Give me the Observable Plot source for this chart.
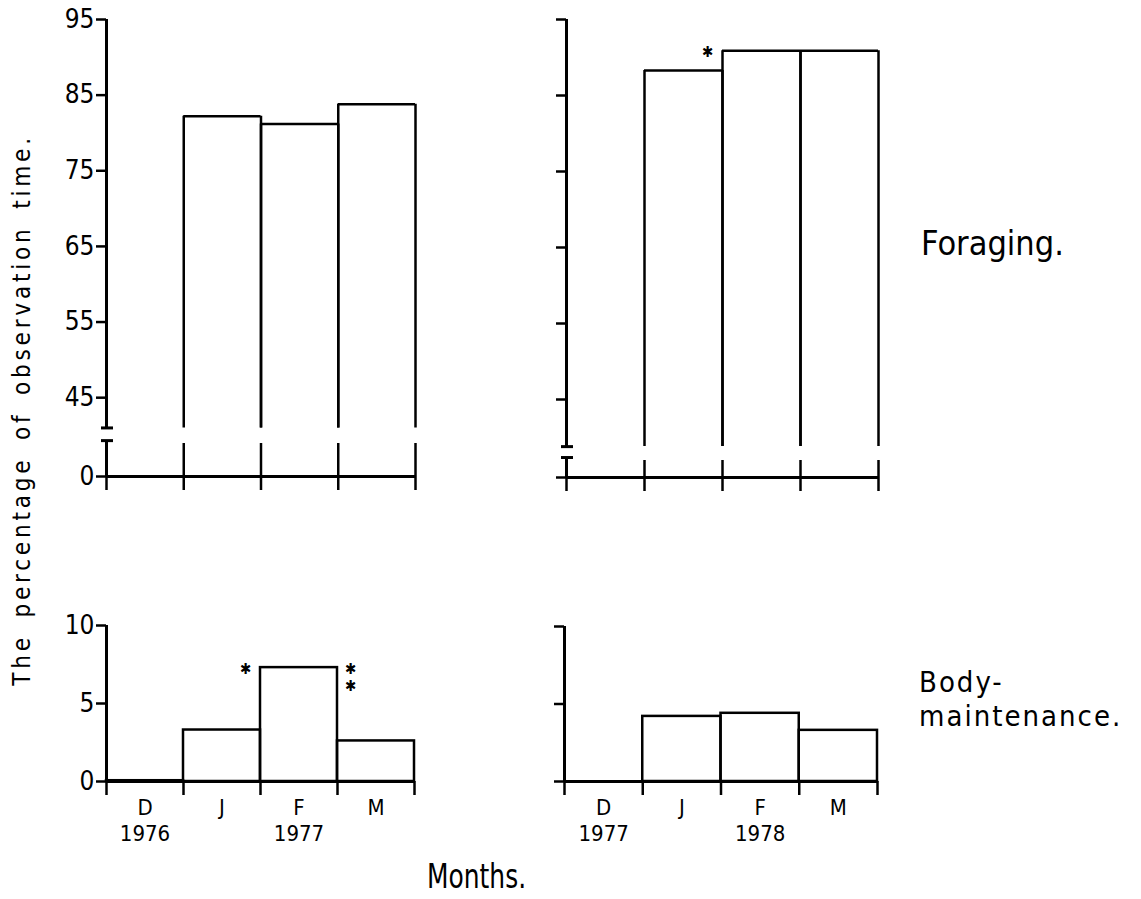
<!DOCTYPE html>
<html>
<head>
<meta charset="utf-8">
<script src="https://cdn.jsdelivr.net/npm/d3@7"></script>
<script src="https://cdn.jsdelivr.net/npm/@observablehq/plot@0.6"></script>
<style>
  body { margin: 0; background: #fff; }
  #fig {
    position: relative; width: 1141px; height: 899px; overflow: hidden;
    font-family: "DejaVu Sans Condensed", "DejaVu Sans", sans-serif;
    font-stretch: condensed; color: #000;
  }
  .panel { position: absolute; }
  .lbl { position: absolute; white-space: nowrap; line-height: 1; }
</style>
</head>
<body>
<div id="fig"></div>
<script>
// Months of each winter season (December to March)
const months = ["D", "J", "F", "M"];

// Percentage of observation time spent foraging (no December record)
const foraging1977 = [null, 82.2, 81.2, 83.8];
const foraging1978 = [null, 88.3, 90.9, 90.9];

// Percentage of observation time spent on body-maintenance
const body1977 = [0.05, 3.3, 7.3, 2.6];
const body1978 = [0, 4.2, 4.4, 3.3];

// Year labels written under the month letters
const years1977 = [{m: "D", label: "1976"}, {m: "F", label: "1977"}];
const years1978 = [{m: "D", label: "1977"}, {m: "F", label: "1978"}];

// Tick values of the two y axes
const foragingTicks = [0, 45, 55, 65, 75, 85, 95];
const bodyTicks = [0, 5, 10];

// Significance asterisks beside a month's bar (row = position in a stack)
const starsForaging1978 = [{m: "F", side: "left", row: 0}];
const starsBody1977 = [
  {m: "F", side: "left", row: 0},
  {m: "F", side: "right", row: 0},
  {m: "F", side: "right", row: 1}
];

const FONT = '"DejaVu Sans Condensed", "DejaVu Sans", sans-serif';
const idx = (m) => months.indexOf(m);

function panel(cfg) {
  const rows = months.map((m, i) => ({m, i, v: cfg.values[i]})).filter((d) => d.v != null);
  const edges = d3.range(months.length + 1);
  const marks = [];

  if (cfg.brk) {
    // bars rising above the broken part of the axis: top and sides only
    marks.push(Plot.ruleY(rows, {y: "v", x1: "i", x2: (d) => d.i + 1, strokeWidth: 2.5}));
    marks.push(Plot.ruleX(rows, {x: "i", y1: cfg.brk.hi, y2: "v", strokeWidth: 2.5}));
    marks.push(Plot.ruleX(rows, {x: (d) => d.i + 1, y1: cfg.brk.hi, y2: "v", strokeWidth: 2.5}));
    // broken y axis with end caps
    marks.push(Plot.ruleX([0], {y1: cfg.brk.hi, y2: cfg.yTop, strokeWidth: 3}));
    marks.push(Plot.ruleX([0], {y1: 0, y2: cfg.brk.lo, strokeWidth: 3}));
    marks.push(Plot.ruleY([cfg.brk.hi, cfg.brk.lo], {x1: 0, x2: 0, insetLeft: -5, insetRight: -7, strokeWidth: 3}));
  } else {
    marks.push(Plot.rect(rows, {x1: "i", x2: (d) => d.i + 1, y1: 0, y2: "v", fill: "none", stroke: "black", strokeWidth: 2.5}));
    marks.push(Plot.ruleX([0], {y1: 0, y2: cfg.yTop, strokeWidth: 3}));
  }

  // x axis line and month boundary ticks
  marks.push(Plot.ruleY([0], {x1: 0, x2: months.length, strokeWidth: 3}));
  marks.push(Plot.ruleX(edges, {y1: 0, y2: 0, insetTop: -cfg.tickUp, insetBottom: -14, strokeWidth: 2.5}));

  // y axis ticks (labels only on the left-hand panels)
  marks.push(Plot.axisY({
    ticks: cfg.ticks, tickSize: 10, tickPadding: 2, strokeWidth: 2.5,
    tickFormat: cfg.tickLabels ? (d) => String(d) : () => "",
    fontSize: 26, label: null
  }));

  if (cfg.years) {
    marks.push(Plot.text(months, {x: (d, i) => i + 0.5, y: 0, text: (d) => d, dy: 26, fontSize: 22}));
    marks.push(Plot.text(cfg.years, {x: (d) => idx(d.m) + 0.5, y: 0, text: "label", dy: 52, fontSize: 22}));
  }

  if (cfg.stars) {
    for (const s of cfg.stars) {
      marks.push(Plot.text([s], {
        x: (d) => idx(d.m) + (d.side === "left" ? 0 : 1),
        y: (d) => cfg.values[idx(d.m)],
        text: () => "✱",
        dx: s.side === "left" ? -15 : 13,
        dy: 2 + s.row * 17,
        fontSize: 15, fontWeight: "bold"
      }));
    }
  }

  const svg = Plot.plot({
    width: cfg.width, height: cfg.height,
    marginLeft: cfg.xRange[0], marginRight: cfg.width - cfg.xRange[1],
    marginTop: cfg.yRange[cfg.yRange.length - 1], marginBottom: cfg.height - cfg.yRange[0],
    x: {type: "linear", domain: [0, months.length], range: cfg.xRange, axis: null},
    y: {type: "linear", domain: cfg.yDomain, range: cfg.yRange, axis: null, label: null},
    style: {fontFamily: FONT, fontStretch: "condensed", color: "black", background: "transparent", overflow: "visible"},
    marks
  });
  const div = document.createElement("div");
  div.className = "panel";
  div.style.left = cfg.left + "px";
  div.style.top = cfg.top + "px";
  div.appendChild(svg);
  return div;
}

const fig = document.getElementById("fig");

// Foraging, 1976/77
fig.appendChild(panel({
  left: 0, top: 0, width: 440, height: 500,
  values: foraging1977, xRange: [106, 415],
  yDomain: [0, 40, 95], yRange: [476, 435, 19], yTop: 95,
  brk: {hi: 41, lo: 35}, tickUp: 33, ticks: foragingTicks, tickLabels: true
}));

// Foraging, 1977/78
fig.appendChild(panel({
  left: 460, top: 0, width: 440, height: 500,
  values: foraging1978, xRange: [106, 418],
  yDomain: [0, 38, 95], yRange: [477, 452.2, 19], yTop: 95,
  brk: {hi: 38.8, lo: 30.6}, tickUp: 17, ticks: foragingTicks, tickLabels: false,
  stars: starsForaging1978
}));

// Body-maintenance, 1976/77
fig.appendChild(panel({
  left: 0, top: 560, width: 440, height: 300,
  values: body1977, xRange: [106, 414],
  yDomain: [0, 10], yRange: [221, 65], yTop: 10,
  tickUp: 0, ticks: bodyTicks, tickLabels: true,
  years: years1977, stars: starsBody1977
}));

// Body-maintenance, 1977/78
fig.appendChild(panel({
  left: 460, top: 560, width: 440, height: 300,
  values: body1978, xRange: [104, 417],
  yDomain: [0, 10], yRange: [221, 66], yTop: 10,
  tickUp: 0, ticks: bodyTicks, tickLabels: false,
  years: years1978
}));

// Text around the panels
function label(html, css) {
  const d = document.createElement("div");
  d.className = "lbl";
  d.innerHTML = html;
  Object.assign(d.style, css);
  fig.appendChild(d);
}
label("Foraging.", {left: "921px", top: "226px", fontSize: "34px"});
label("Body-<br>maintenance.", {left: "919px", top: "665px", fontSize: "29px", lineHeight: "34px", letterSpacing: "2px"});
label("Months.", {left: "427px", top: "860px", fontSize: "33px", transform: "scaleX(0.84)", transformOrigin: "left center"});
label("The percentage of observation time.", {
  left: "22px", top: "410px", fontSize: "24px", letterSpacing: "3.8px", wordSpacing: "6px",
  transform: "translate(-50%, -50%) rotate(-90deg)"
});
</script>
</body>
</html>
